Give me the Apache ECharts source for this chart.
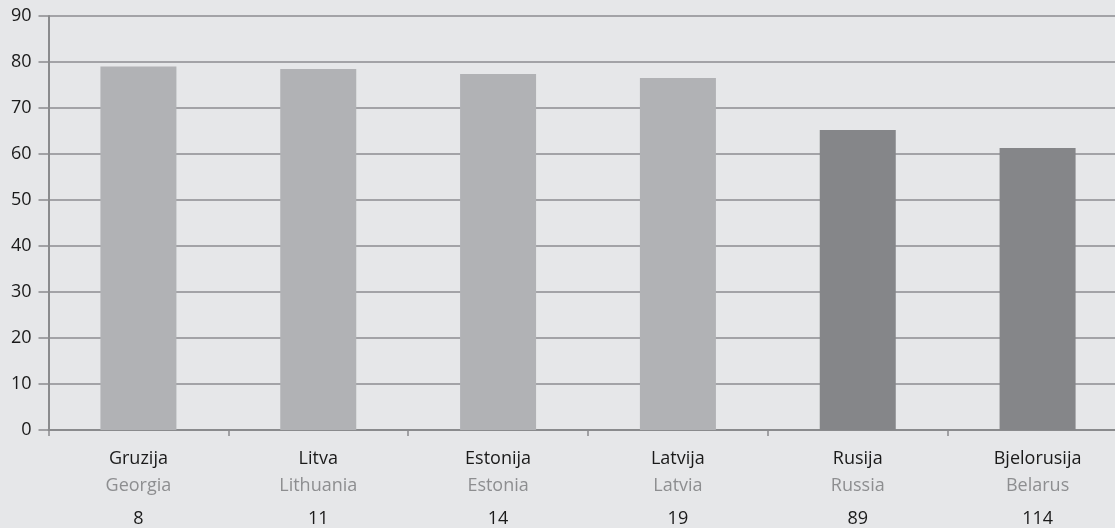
<!DOCTYPE html>
<html>
<head>
<meta charset="utf-8">
<script src="https://cdn.jsdelivr.net/npm/echarts@6/dist/echarts.min.js"></script>
<style>
html,body{margin:0;padding:0;background:#e6e7e9;}
#chart{width:1115px;height:528px;}
</style>
</head>
<body>
<div id="chart"></div>
<script>
const namesLocal = ['Gruzija', 'Litva', 'Estonija', 'Latvija', 'Rusija', 'Bjelorusija'];
const namesEnglish = ['Georgia', 'Lithuania', 'Estonia', 'Latvia', 'Russia', 'Belarus'];
const ranks = ['8', '11', '14', '19', '89', '114'];
const values = [79.0, 78.5, 77.4, 76.5, 65.2, 61.3];
const highlight = [false, false, false, false, true, true];

const chart = echarts.init(document.getElementById('chart'));
chart.setOption({
  backgroundColor: '#e6e7e9',
  animation: false,
  textStyle: { fontFamily: 'Open Sans' },
  grid: { left: 48.5, top: 16, bottom: 98, width: 1079, containLabel: false, outerBoundsMode: 'none' },
  xAxis: {
    type: 'category',
    data: namesLocal.map((n, i) => i),
    axisLine: { lineStyle: { color: '#8a8b8d', width: 2 } },
    axisTick: { show: true, length: 6, interval: 0, lineStyle: { color: '#8a8b8d', width: 1.5 } },
    axisLabel: {
      interval: 0,
      margin: 16,
      formatter: function (v, i) {
        return '{a|' + namesLocal[i] + '}\n{b|' + namesEnglish[i] + '}\n{c|' + ranks[i] + '}';
      },
      rich: {
        a: { fontSize: 18, color: '#1a1a1a', lineHeight: 26, fontFamily: 'Open Sans' },
        b: { fontSize: 18, color: '#8d8e90', lineHeight: 28, fontFamily: 'Open Sans' },
        c: { fontSize: 18, color: '#1a1a1a', lineHeight: 38, fontFamily: 'Open Sans' }
      }
    }
  },
  yAxis: {
    type: 'value',
    min: 0, max: 90, interval: 10,
    axisLine: { show: true, lineStyle: { color: '#8a8b8d', width: 2 } },
    axisTick: { show: true, length: 10, lineStyle: { color: '#8a8b8d', width: 1.5 } },
    axisLabel: { margin: 17, fontSize: 18, color: '#1a1a1a', fontFamily: 'Open Sans' },
    splitLine: { lineStyle: { color: '#8c8d90', width: 1.5 } }
  },
  series: [{
    type: 'bar',
    barWidth: 76,
    data: values.map((v, i) => ({ value: v, itemStyle: { color: highlight[i] ? '#858689' : '#b1b2b5' } }))
  }]
});
</script>
</body>
</html>
